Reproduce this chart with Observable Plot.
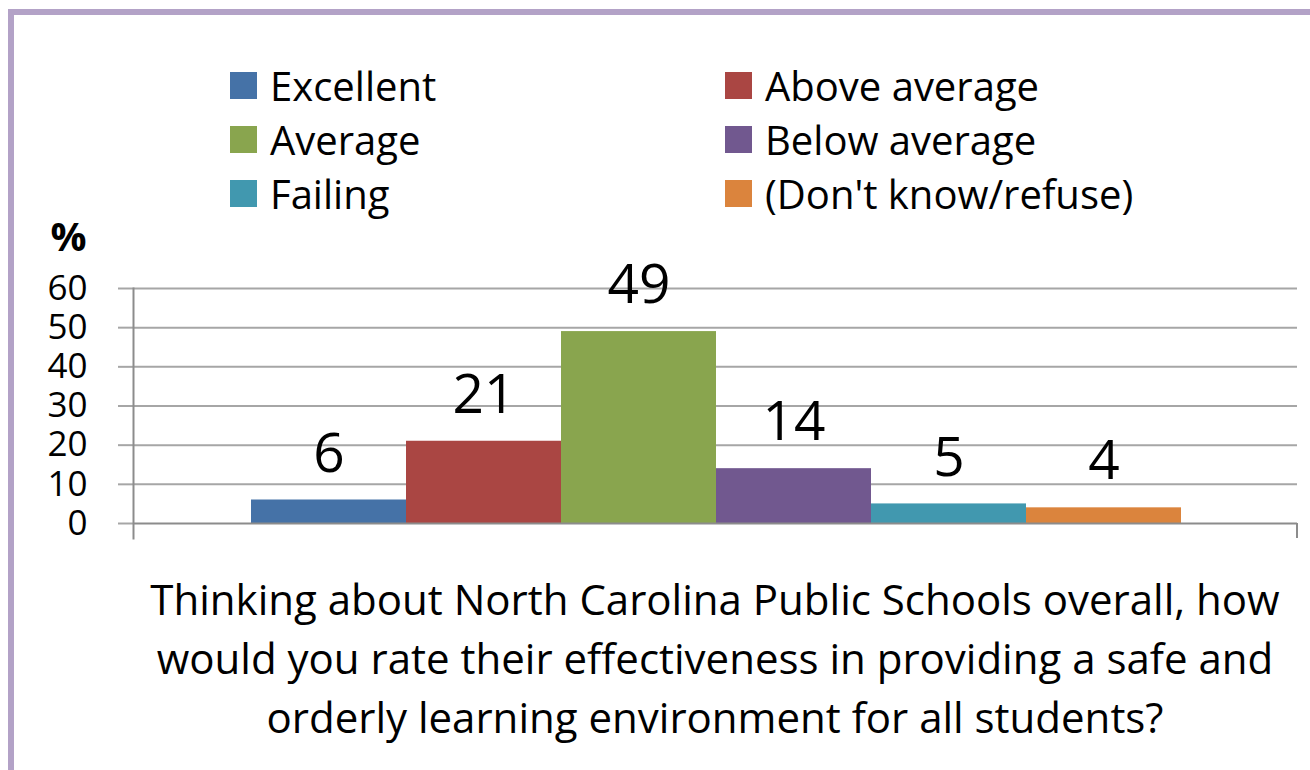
<!DOCTYPE html>
<html>
<head>
<meta charset="utf-8">
<script src="https://cdn.jsdelivr.net/npm/d3@7"></script>
<script src="https://cdn.jsdelivr.net/npm/@observablehq/plot@0.6"></script>
<style>
  body { margin: 0; background: #fff; font-family: "Open Sans", Lato, sans-serif; }
  #wrap { position: relative; width: 1310px; height: 770px; overflow: hidden; background: #fff; }
  #border { position: absolute; left: 8px; top: 9px; width: 1400px; height: 900px;
            border-left: 6px solid #B3A2C7; border-top: 6px solid #B3A2C7; }
  #legend { position: absolute; left: 230px; top: 58px; display: grid;
            grid-template-columns: 495px auto; grid-auto-rows: 54px; font-size: 40px; color: #000; }
  .item { display: flex; align-items: center; }
  .sw { width: 27px; height: 27px; margin-right: 13px; flex: none; }
  #chart { position: absolute; left: 0; top: 200px; }
  #caption { position: absolute; left: 133px; width: 1164px; top: 569px; text-align: center;
             font-size: 42px; line-height: 59px; color: #000; }
</style>
</head>
<body>
<div id="wrap">
  <div id="border"></div>
  <div id="legend"></div>
  <div id="chart"></div>
  <div id="caption"></div>
</div>
<script>
const categories = ["Excellent", "Above average", "Average", "Below average", "Failing", "(Don't know/refuse)"];
const values = [6, 21, 49, 14, 5, 4];
const colors = ["#4572A7", "#AA4643", "#89A54E", "#71588F", "#4198AF", "#DB843D"];
const yTicks = [0, 10, 20, 30, 40, 50, 60];
const legendOrder = ["Excellent", "Above average", "Average", "Below average", "Failing", "(Don't know/refuse)"];
const captionLines = [
  "Thinking about North Carolina Public Schools overall, how",
  "would you rate their effectiveness in providing a safe and",
  "orderly learning environment for all students?"
];

const data = categories.map((c, i) => ({category: c, value: values[i]}));

// Legend (HTML, above the SVG)
const legend = document.getElementById("legend");
legendOrder.forEach(c => {
  const it = document.createElement("div");
  it.className = "item";
  const sw = document.createElement("span");
  sw.className = "sw";
  sw.style.background = colors[categories.indexOf(c)];
  const t = document.createElement("span");
  t.textContent = c;
  it.appendChild(sw); it.appendChild(t);
  legend.appendChild(it);
});

// Caption (HTML, below the SVG)
document.getElementById("caption").innerHTML = captionLines.map(l => `<div>${l}</div>`).join("");

const chart = Plot.plot({
  width: 1310,
  height: 360,
  marginLeft: 133,
  marginRight: 13,
  marginTop: 88,
  marginBottom: 22,
  style: {fontFamily: "'Open Sans', Lato, sans-serif", background: "transparent", color: "black"},
  x: {domain: categories, range: [250, 1181], padding: 0, axis: null},
  y: {domain: [0, 60], range: [323, 88]},
  color: {domain: categories, range: colors},
  marks: [
    Plot.ruleY(yTicks.slice(1), {stroke: "#A6A6A6", strokeWidth: 2}),
    Plot.axisY(yTicks, {anchor: "left", tickSize: 15, tickPadding: 31, fontSize: 35,
                        stroke: "#A6A6A6", fill: "black", strokeWidth: 2, label: null}),
    Plot.barY(data, {x: "category", y: "value", fill: "category"}),
    Plot.ruleY([0], {stroke: "#8C8C8C", strokeWidth: 2}),
    Plot.frame({anchor: "left", stroke: "#8C8C8C", strokeWidth: 2}),
    Plot.text(data, {x: "category", y: "value", text: d => String(d.value), dy: -46,
                     fontSize: 55, fill: "black", lineAnchor: "middle"}),
    Plot.text(["%"], {frameAnchor: "top-left", dx: -65, dy: -50, fontSize: 40,
                      fontWeight: "bold", fill: "black", lineAnchor: "middle", textAnchor: "middle"})
  ]
});
document.getElementById("chart").appendChild(chart);

// Category-axis end tick on the right (Excel style), placed via the chart's own y scale
const ys = chart.scale("y");
const y0 = ys.apply(0);
d3.select(chart).append("line")
  .attr("x1", 1310 - 13).attr("x2", 1310 - 13)
  .attr("y1", y0).attr("y2", y0 + 15)
  .attr("stroke", "#8C8C8C").attr("stroke-width", 2);
</script>
</body>
</html>
